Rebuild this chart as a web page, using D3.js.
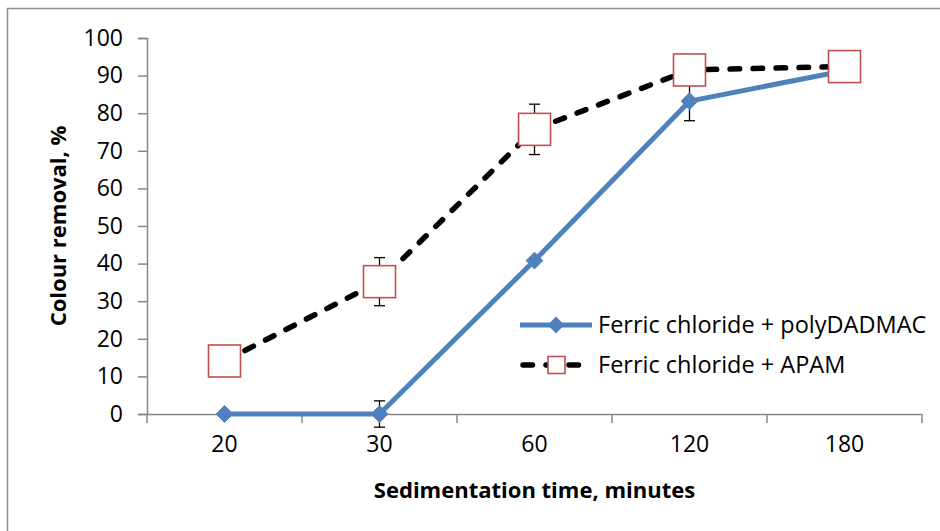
<!DOCTYPE html>
<html>
<head>
<meta charset="utf-8">
<script src="https://cdn.jsdelivr.net/npm/d3@7"></script>
<style>
  body { margin: 0; background: #fff; }
  svg { display: block; font-family: "Open Sans", sans-serif; }
</style>
</head>
<body>
<svg id="chart" width="940" height="531"></svg>
<script>
// sedimentation time categories (minutes)
var times = ["20", "30", "60", "120", "180"];

// colour removal, %
var polyDADMAC = [0, 0, 40.8, 83.2, 91.3];
var polyDADMACErr = [0, 3.5, 0, 5.2, 0];

var apam = [14.1, 35.2, 75.7, 91.5, 92.4];
var apamErr = [0, 6.4, 6.7, 0, 0];

var yTicks = [0, 10, 20, 30, 40, 50, 60, 70, 80, 90, 100];

var seriesNames = ["Ferric chloride + polyDADMAC", "Ferric chloride + APAM"];

var svg = d3.select("#chart");

var plot = { left: 147, right: 922, top: 38, bottom: 414 };

var x = d3.scaleBand().domain(times).range([plot.left, plot.right]).padding(0);
var y = d3.scaleLinear().domain([0, 100]).range([plot.bottom, plot.top]);

var axisColor = "#868686";

// outer chart border (only left and top visible in the picture)
svg.append("path")
  .attr("d", "M7.5,531 L7.5,8.5 L940,8.5")
  .attr("fill", "none")
  .attr("stroke", "#8c8c8c")
  .attr("stroke-width", 1.5);

// y axis
var yAxis = svg.append("g")
  .attr("transform", "translate(" + plot.left + ",0)")
  .call(d3.axisLeft(y).tickValues(yTicks).tickSize(9).tickPadding(15));
yAxis.select(".domain").attr("stroke", axisColor).attr("stroke-width", 1.5);
yAxis.selectAll(".tick line").attr("stroke", axisColor).attr("stroke-width", 1.5);
yAxis.selectAll(".tick text")
  .attr("fill", "#000")
  .style("font-size", "23px")
  .style("font-family", "'Open Sans', sans-serif");

// x axis: labels at band centres, ticks at band edges
var xAxis = svg.append("g")
  .attr("transform", "translate(0," + plot.bottom + ")")
  .call(d3.axisBottom(x).tickSize(0).tickPadding(22).tickSizeOuter(0));
xAxis.select(".domain").attr("stroke", axisColor).attr("stroke-width", 1.5);
xAxis.selectAll(".tick text")
  .attr("fill", "#000")
  .style("font-size", "23px")
  .style("font-family", "'Open Sans', sans-serif");

var edges = times.map(function(d) { return x(d); }).concat([x.range()[1]]);
xAxis.selectAll(".edge")
  .data(edges)
  .enter().append("line")
  .attr("x1", function(d) { return d; })
  .attr("x2", function(d) { return d; })
  .attr("y1", 0)
  .attr("y2", 9)
  .attr("stroke", axisColor)
  .attr("stroke-width", 1.5);

function cx(i) { return x(times[i]) + x.bandwidth() / 2; }

var line = d3.line()
  .x(function(d, i) { return cx(i); })
  .y(function(d) { return y(d); });

// series lines
svg.append("path")
  .datum(polyDADMAC)
  .attr("d", line)
  .attr("fill", "none")
  .attr("stroke", "#4F81BD")
  .attr("stroke-width", 5)
  .attr("stroke-linejoin", "round");

svg.append("path")
  .datum(apam)
  .attr("d", line)
  .attr("fill", "none")
  .attr("stroke", "#000")
  .attr("stroke-width", 5.5)
  .attr("stroke-dasharray", "9.5,13.5")
  .attr("stroke-linecap", "round");

// error bars
function errorBars(values, errs) {
  var g = svg.append("g");
  values.forEach(function(v, i) {
    if (!errs[i]) return;
    var px = cx(i);
    var y1 = y(v + errs[i]), y2 = y(v - errs[i]);
    g.append("line").attr("x1", px).attr("x2", px).attr("y1", y1).attr("y2", y2);
    g.append("line").attr("x1", px - 5.5).attr("x2", px + 5.5).attr("y1", y1).attr("y2", y1);
    g.append("line").attr("x1", px - 5.5).attr("x2", px + 5.5).attr("y1", y2).attr("y2", y2);
  });
  g.selectAll("line").attr("stroke", "#000").attr("stroke-width", 1.3);
}
errorBars(polyDADMAC, polyDADMACErr);
errorBars(apam, apamErr);

// markers
var diamond = d3.symbol().type(d3.symbolDiamond2).size(180);

svg.append("g").selectAll("path")
  .data(polyDADMAC)
  .enter().append("path")
  .attr("d", diamond)
  .attr("transform", function(d, i) { return "translate(" + cx(i) + "," + y(d) + ")"; })
  .attr("fill", "#4F81BD")
  .attr("stroke", "#4F81BD")
  .attr("stroke-width", 1);

var sq = 32;
svg.append("g").selectAll("rect")
  .data(apam)
  .enter().append("rect")
  .attr("x", function(d, i) { return cx(i) - sq / 2; })
  .attr("y", function(d) { return y(d) - sq / 2; })
  .attr("width", sq)
  .attr("height", sq)
  .attr("fill", "#fff")
  .attr("stroke", "#C0504D")
  .attr("stroke-width", 1.6);

// axis titles
svg.append("text")
  .attr("transform", "translate(66," + ((plot.top + plot.bottom) / 2) + ") rotate(-90)")
  .attr("text-anchor", "middle")
  .style("font-size", "22px")
  .style("font-weight", "bold")
  .text("Colour removal, %");

svg.append("text")
  .attr("x", (plot.left + plot.right) / 2)
  .attr("y", 498)
  .attr("text-anchor", "middle")
  .style("font-size", "22px")
  .style("font-weight", "bold")
  .text("Sedimentation time, minutes");

// legend
var legend = svg.append("g");
var legY = [325, 365];

legend.append("line")
  .attr("x1", 520).attr("x2", 592)
  .attr("y1", legY[0]).attr("y2", legY[0])
  .attr("stroke", "#4F81BD").attr("stroke-width", 5);
legend.append("path")
  .attr("d", diamond)
  .attr("transform", "translate(556," + legY[0] + ")")
  .attr("fill", "#4F81BD");

legend.append("line")
  .attr("x1", 523).attr("x2", 590)
  .attr("y1", legY[1]).attr("y2", legY[1])
  .attr("stroke", "#000").attr("stroke-width", 5.5)
  .attr("stroke-dasharray", "9.5,13.5")
  .attr("stroke-linecap", "round");
legend.append("rect")
  .attr("x", 548).attr("y", legY[1] - 8.5)
  .attr("width", 17).attr("height", 17)
  .attr("fill", "#fff")
  .attr("stroke", "#C0504D")
  .attr("stroke-width", 1.6);

legend.selectAll("text")
  .data(seriesNames)
  .enter().append("text")
  .attr("x", 598)
  .attr("y", function(d, i) { return legY[i] + 8; })
  .style("font-size", "23.5px")
  .text(function(d) { return d; });
</script>
</body>
</html>
